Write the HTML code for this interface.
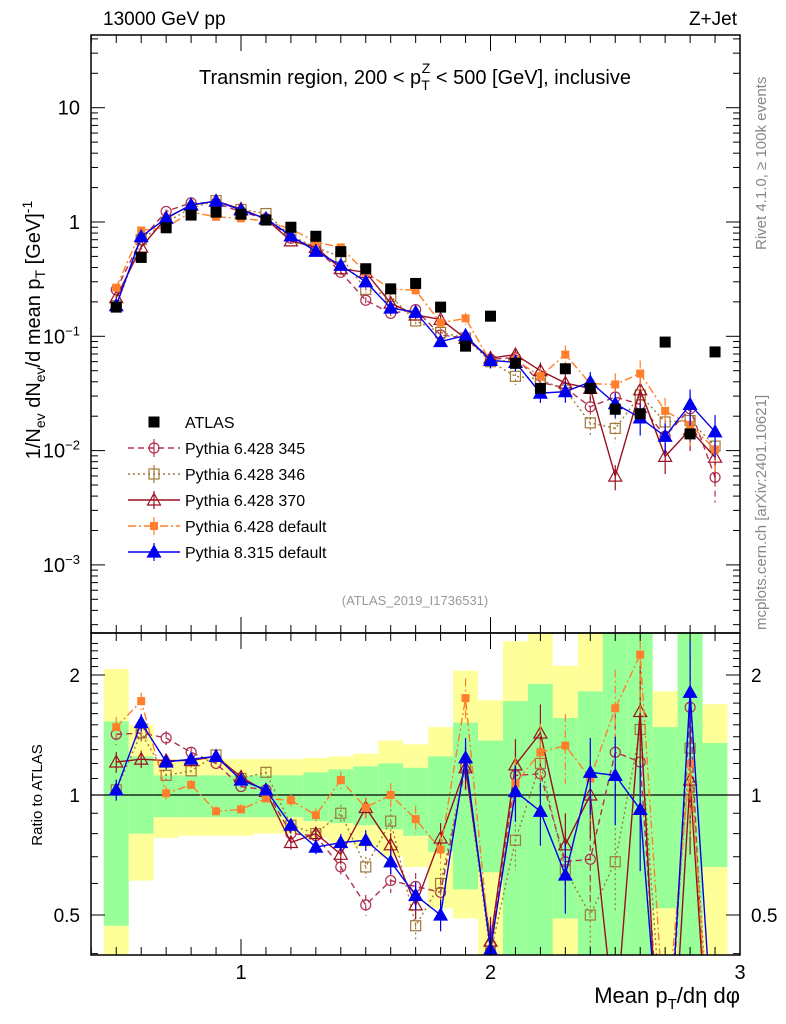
<!DOCTYPE html>
<html><head><meta charset="utf-8"><style>
html,body{margin:0;padding:0;background:#fff;width:786px;height:1024px;overflow:hidden;}
svg{display:block;font-family:"Liberation Sans",sans-serif;}
</style></head><body>
<svg id="c" width="786" height="1024" viewBox="0 0 786 1024">
<defs>
<clipPath id="clipM"><rect x="91" y="35" width="649" height="598"/></clipPath>
<clipPath id="clipR"><rect x="91" y="633" width="649" height="322"/></clipPath>
</defs>
<g id="bands" clip-path="url(#clipR)"></g>
<g id="marks"></g>
<rect x="91" y="35" width="649" height="598" fill="none" stroke="#000" stroke-width="1.5"/>
<rect x="91" y="633" width="649" height="322" fill="none" stroke="#000" stroke-width="1.5"/>
<g id="axes"></g>
<text x="103" y="25" font-size="19">13000 GeV pp</text>
<text x="737" y="25" font-size="19" text-anchor="end">Z+Jet</text>
<text x="415" y="84" font-size="20" text-anchor="middle">Transmin region, 200 &lt; p<tspan font-size="14" dy="6">T</tspan><tspan font-size="14" dx="-8" dy="-17">Z</tspan><tspan dy="11"> &lt; 500 [GeV], inclusive</tspan></text>
<text x="415" y="605" font-size="13" fill="#999" text-anchor="middle">(ATLAS_2019_I1736531)</text>
<text transform="translate(766,250) rotate(-90)" font-size="15" fill="#888">Rivet 4.1.0, ≥ 100k events</text>
<text transform="translate(766,630) rotate(-90)" font-size="15" fill="#888">mcplots.cern.ch [arXiv:2401.10621]</text>
<text transform="translate(40,330) rotate(-90)" font-size="20" text-anchor="middle">1/N<tspan font-size="14" dy="5">ev</tspan><tspan dy="-5"> dN</tspan><tspan font-size="14" dy="5">ev</tspan><tspan dy="-5">/d mean p</tspan><tspan font-size="14" dy="5">T</tspan><tspan dy="-5"> [GeV]</tspan><tspan font-size="14" dy="-8">-1</tspan></text>
<text transform="translate(42,795) rotate(-90)" font-size="15" text-anchor="middle">Ratio to ATLAS</text>
<text x="740" y="1003" font-size="22" text-anchor="end">Mean p<tspan font-size="15" dy="6">T</tspan><tspan dy="-6">/dη dφ</tspan></text>
<g id="legend"></g>
</svg>
<script>
const bins=[0.5,0.6,0.7,0.8,0.9,1.0,1.1,1.2,1.3,1.4,1.5,1.6,1.7,1.8,1.9,2.0,2.1,2.2,2.3,2.4,2.5,2.6,2.7,2.8,2.9];
const atlas=[0.18,0.49,0.89,1.15,1.22,1.17,1.04,0.9,0.75,0.55,0.39,0.26,0.29,0.18,0.082,0.15,0.058,0.035,0.052,0.035,0.023,0.021,0.089,0.014,0.073];
const ratio345=[1.42,1.43,1.39,1.28,1.20,1.05,1.03,0.80,0.79,0.66,0.53,0.61,0.59,0.57,1.18,0.42,1.12,1.13,0.68,0.69,1.28,1.21,0.15,1.66,0.08];
const ratio346=[1.03,1.43,1.12,1.15,1.26,1.10,1.14,0.84,0.80,0.90,0.66,0.86,0.47,0.60,1.18,0.40,0.77,1.20,0.65,0.50,0.68,1.46,0.20,1.31,0.15];
const ratio370=[1.21,1.23,1.22,1.22,1.25,1.11,1.02,0.76,0.80,0.71,0.93,0.75,0.53,0.78,1.17,0.43,1.19,1.43,0.75,1.00,0.26,1.62,0.10,1.09,0.12];
const ratioP6=[1.48,1.72,1.01,1.06,0.91,0.92,0.98,0.97,0.89,1.09,0.93,1.00,0.87,0.73,1.75,0.40,1.07,1.28,1.33,1.10,1.65,2.25,0.25,1.20,0.14];
const ratioP8=[1.03,1.52,1.21,1.23,1.25,1.09,1.03,0.84,0.74,0.76,0.77,0.68,0.56,0.50,1.24,0.41,1.02,0.91,0.63,1.14,1.12,0.92,0.15,1.81,0.20];
const mcErr=[0.06,0.05,0.04,0.03,0.03,0.03,0.03,0.04,0.04,0.05,0.06,0.07,0.08,0.09,0.12,0.15,0.16,0.18,0.2,0.22,0.25,0.3,0.3,0.35,0.4];
const greenLo=[0.47,0.80,0.88,0.88,0.88,0.88,0.88,0.88,0.86,0.85,0.84,0.82,0.79,0.72,0.58,0.64,0.3,0.3,0.49,0.3,0.3,0.3,0.52,0.3,0.66];
const greenHi=[1.53,1.25,1.12,1.12,1.12,1.12,1.12,1.12,1.14,1.16,1.18,1.2,1.17,1.25,1.52,1.37,1.72,1.9,1.56,1.82,3,3,1.48,3,1.35];
const yellowLo=[0.3,0.61,0.78,0.79,0.79,0.79,0.8,0.80,0.78,0.76,0.74,0.7,0.66,0.52,0.49,0.3,0.3,0.3,0.3,0.3,0.3,0.3,0.3,0.3,0.3];
const yellowHi=[2.07,1.5,1.23,1.23,1.23,1.23,1.23,1.23,1.24,1.25,1.27,1.37,1.34,1.48,2.05,1.73,2.43,3,2.11,3,3,3,1.82,3,1.69];
const yTicksMain=[10,1,0.1,0.01,0.001];
const yTickLabels=["10","1","10<tspan font-size='13' dy='-8'>−1</tspan>","10<tspan font-size='13' dy='-8'>−2</tspan>","10<tspan font-size='13' dy='-8'>−3</tspan>"];
const xTicks=[1,2,3];
const rTicks=[2,1,0.5];

const NS="http://www.w3.org/2000/svg";
const X=v=>241+249.5*(v-1);
const YM=v=>222-114.3*Math.log10(v);
const YR=v=>795-120*Math.log2(v);
function mk(tag,attrs,parent){const e=document.createElementNS(NS,tag);for(const k in attrs)e.setAttribute(k,attrs[k]);parent.appendChild(e);return e;}
const bandG=document.getElementById('bands');
for(let i=0;i<bins.length;i++){
  const x0=X(bins[i]-0.05),w=X(bins[i]+0.05)-x0;
  const yb=mk('rect',{x:x0,y:YR(yellowHi[i]),width:w,height:YR(yellowLo[i])-YR(yellowHi[i]),fill:'#ffff99'},bandG);
  
  
  const gb=mk('rect',{x:x0,y:YR(greenHi[i]),width:w,height:YR(greenLo[i])-YR(greenHi[i]),fill:'#99ff99'},bandG);
  
  
}
const marks=document.getElementById('marks');
const refl=mk('line',{x1:91,x2:740,y1:YR(1),y2:YR(1),stroke:'#000','stroke-width':1.3},marks);



const series=[
 {name:'Pythia 6.428 345',r:ratio345,col:'#b03050',dash:'6,4',m:'circle',key:'p345'},
 {name:'Pythia 6.428 346',r:ratio346,col:'#a07838',dash:'2,3',m:'osq',key:'p346'},
 {name:'Pythia 6.428 370',r:ratio370,col:'#9b1020',dash:'',m:'otri',key:'p370'},
 {name:'Pythia 6.428 default',r:ratioP6,col:'#ff7f2a',dash:'8,3,2,3',m:'fsq',key:'p6def'},
 {name:'Pythia 8.315 default',r:ratioP8,col:'#0000ee',dash:'',m:'ftri',key:'p8def'}];
function marker(g,m,x,y,col,s){
  s=s||1;
  if(m==='circle')return mk('circle',{cx:x,cy:y,r:5*s,fill:'none',stroke:col,'stroke-width':1.2},g);
  if(m==='osq')return mk('rect',{x:x-5*s,y:y-5*s,width:10*s,height:10*s,fill:'none',stroke:col,'stroke-width':1.2},g);
  if(m==='fsq')return mk('rect',{x:x-4*s,y:y-4*s,width:8*s,height:8*s,fill:col},g);
  if(m==='sq')return mk('rect',{x:x-5.5*s,y:y-5.5*s,width:11*s,height:11*s,fill:col},g);
  const d=`M${x},${y-6.5*s}L${x+6.5*s},${y+5*s}L${x-6.5*s},${y+5*s}Z`;
  return mk('path',{d:d,fill:m==='ftri'?col:'none',stroke:col,'stroke-width':1.2},g);
}
series.forEach(s=>{
  ['main','ratio'].forEach(panel=>{
    const g=mk('g',{'clip-path':panel==='main'?'url(#clipM)':'url(#clipR)'},marks);
    
    
    const Y=panel==='main'?(i=>YM(atlas[i]*s.r[i])):(i=>YR(s.r[i]));
    const Ye=panel==='main'?((i,f)=>YM(atlas[i]*s.r[i]*f)):((i,f)=>YR(s.r[i]*f));
    const pts=bins.map((b,i)=>X(b)+','+Y(i)).join(' ');
    const pl=mk('polyline',{points:pts,fill:'none',stroke:s.col,'stroke-width':1.4,'stroke-dasharray':s.dash},g);
    
    
    bins.forEach((b,i)=>{
      const x=X(b);
      const eb=mk('line',{x1:x,x2:x,y1:Ye(i,1+mcErr[i]),y2:Ye(i,Math.max(0.05,1-mcErr[i])),stroke:s.col,'stroke-width':1.2,'stroke-dasharray':s.dash},g);
      
      
      const mm=marker(g,s.m,x,Y(i),s.col);
      
      
    });
  });
});
const ag=mk('g',{'clip-path':'url(#clipM)'},marks);


bins.forEach((b,i)=>{
  const p=marker(ag,'sq',X(b),YM(atlas[i]),'#000');
  
  
});

const ax=document.getElementById('axes');
function tick(x1,y1,x2,y2){mk('line',{x1,y1,x2,y2,stroke:'#000','stroke-width':1},ax);}
function label(x,y,html,anchor,size,name){const t=mk('text',{x,y,'font-size':size,'text-anchor':anchor},ax);t.innerHTML=html;return t;}
for(let d=-4;d<=1;d++){for(let k=1;k<10;k++){const v=k*Math.pow(10,d);const y=YM(v);if(y<35||y>633)continue;const L=k===1?14:7;tick(91,y,91+L,y);tick(740,y,740-L,y);}}
yTicksMain.forEach((v,i)=>label(80,YM(v)+7,yTickLabels[i],'end',20,'y-tick-label'));
for(let v=0.4;v<=3.001;v+=0.1){const x=X(v);const major=Math.abs(v-Math.round(v))<0.01;const L=major?16:8;tick(x,633,x,633-L);tick(x,35,x,35+L);tick(x,955,x,955-L);tick(x,633,x,633+L);}
xTicks.forEach(v=>label(X(v),979,String(v),'middle',20,'x-tick-label'));
for(let v=0.4;v<=2.5;v+=0.1){const y=YR(v);if(y<633||y>955)continue;const major=[0.5,1,2].some(m=>Math.abs(m-v)<0.01);const L=major?14:7;tick(91,y,91+L,y);tick(740,y,740-L,y);}
rTicks.forEach(v=>{label(80,YR(v)+7,String(v),'end',19,'ratio-tick-label');label(751,YR(v)+7,String(v),'start',19,'ratio-tick-label');});
const lg=document.getElementById('legend');
const le=mk('g',{},lg);


marker(le,'sq',154,422,'#000');
const lt=mk('text',{x:185,y:428,'font-size':16},le);lt.textContent='ATLAS';
series.forEach((s,i)=>{
  const y=448+i*26;
  const e=mk('g',{},lg);
  
  
  mk('line',{x1:128,x2:180,y1:y,y2:y,stroke:s.col,'stroke-width':1.4,'stroke-dasharray':s.dash},e);
  mk('line',{x1:154,x2:154,y1:y-9,y2:y+9,stroke:s.col,'stroke-width':1.2},e);
  marker(e,s.m,154,y,s.col);
  const t=mk('text',{x:185,y:y+6,'font-size':16},e);t.textContent=s.name;
});
</script>
</body></html>
